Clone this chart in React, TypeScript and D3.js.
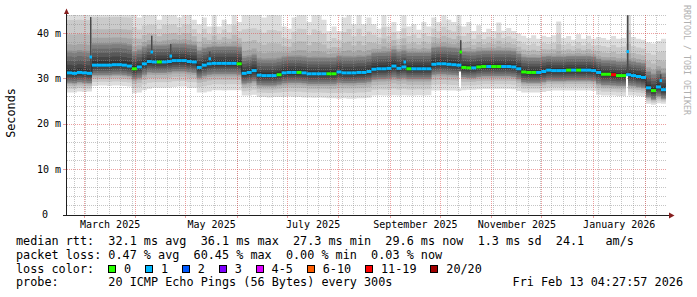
import React from 'react';
import * as d3 from 'd3';

// ---------- data ----------
const START = new Date(2025, 1, 18, 14, 0, 0);
const END = new Date(2026, 1, 14, 5, 0, 0);
const STEP_HOURS = 72; // one sample every 3 days
const Y_MAX_MS = 44.05;

const medianMs = [
  31.3, 31.2, 31.4, 31.3, 31.2,
  33.0, 33.0, 33.0, 33.0, 33.1, 33.1, 33.0, 32.8,
  32.2, 32.6, 33.3, 33.8, 33.7, 33.7, 33.7,
  33.8, 34.0, 34.0, 34.0, 33.8, 33.7, 32.5, 33.0, 33.3,
  33.4, 33.4, 33.4, 33.4, 33.4, 33.3,
  31.2, 31.4, 31.8, 30.8, 30.7, 30.7, 30.7, 30.9,
  31.3, 31.4, 31.4, 31.4, 31.3, 31.1, 31.1, 31.1, 31.1, 31.1, 31.1,
  31.5, 31.3, 31.3, 31.3, 31.4, 31.4, 31.6,
  32.1, 32.2, 32.2, 32.3, 32.8, 32.3, 32.6, 32.2, 32.2, 32.2, 32.2, 32.2,
  33.2, 33.3, 33.3, 33.2, 33.1, 33.0,
  32.5, 32.4, 32.4, 32.6, 32.7, 32.7, 32.7, 32.7, 32.7, 32.7, 32.6,
  32.2, 31.5, 31.4, 31.4, 31.4, 31.6,
  31.9, 31.8, 31.8, 31.8, 31.9, 31.9, 31.9, 31.9, 31.9, 31.8,
  31.4, 31.0, 31.0, 30.9, 30.7, 30.7, 30.9, 30.7, 30.5, 30.3,
  28.0, 27.4, 28.2, 27.6,
];
const pingMinMs = [
  27.0, 27.0, 27.2, 27.1, 27.2,
  28.4, 28.5, 28.5, 28.4, 28.5, 28.5, 28.4, 28.3,
  26.8, 27.0, 27.5, 27.8, 28.0, 28.0, 28.0,
  28.0, 28.2, 28.3, 28.3, 28.0, 28.0, 27.0, 27.0, 27.2,
  27.5, 27.5, 27.4, 27.5, 27.5, 27.5,
  26.3, 26.3, 26.5, 26.0, 26.0, 25.9, 26.0, 26.0,
  26.0, 26.1, 26.0, 26.0, 25.9, 25.9, 25.8, 25.9, 25.8, 25.7, 25.7,
  25.6, 25.7, 25.6, 25.6, 25.7, 25.7, 25.8,
  26.3, 26.4, 26.3, 26.3, 26.4, 26.3, 26.4, 26.3, 26.3, 26.4, 26.3, 26.4,
  27.4, 27.4, 27.5, 27.4, 27.4, 27.3,
  27.5, 27.6, 27.6, 27.7, 27.8, 27.8, 27.8, 27.8, 27.8, 27.8, 27.7,
  27.3, 27.0, 27.0, 27.0, 27.0, 27.1,
  27.3, 27.4, 27.4, 27.4, 27.4, 27.4, 27.4, 27.4, 27.4, 27.3,
  26.5, 26.3, 26.3, 26.3, 26.2, 26.2, 26.3, 26.3, 26.2, 26.1,
  24.5, 24.3, 24.6, 24.5,
];
const pingLowMs = [
  29.2, 29.1, 29.3, 29.2, 29.1,
  30.9, 30.9, 30.9, 30.9, 31.0, 31.0, 30.9, 30.7,
  30.0, 30.3, 31.0, 31.5, 31.4, 31.4, 31.4,
  31.5, 31.7, 31.7, 31.7, 31.5, 31.4, 30.3, 30.7, 31.0,
  31.1, 31.1, 31.1, 31.1, 31.1, 31.0,
  29.0, 29.2, 29.5, 28.7, 28.6, 28.6, 28.6, 28.8,
  29.1, 29.2, 29.2, 29.2, 29.1, 28.9, 28.9, 28.9, 28.9, 28.9, 28.9,
  29.2, 29.1, 29.1, 29.1, 29.2, 29.2, 29.4,
  29.9, 30.0, 30.0, 30.1, 30.4, 30.1, 30.3, 30.0, 30.0, 30.0, 30.0, 30.0,
  31.0, 31.1, 31.1, 31.0, 30.9, 30.8,
  30.4, 30.3, 30.3, 30.5, 30.6, 30.6, 30.6, 30.6, 30.6, 30.6, 30.5,
  30.0, 29.3, 29.2, 29.2, 29.2, 29.4,
  29.7, 29.6, 29.6, 29.6, 29.7, 29.7, 29.7, 29.7, 29.7, 29.6,
  29.0, 28.7, 28.7, 28.6, 28.5, 28.5, 28.6, 28.5, 28.3, 28.1,
  26.0, 25.5, 26.2, 25.7,
];
const pingHighMs = [
  35.8, 35.7, 35.9, 35.8, 35.7,
  37.5, 37.5, 37.5, 37.5, 37.6, 37.6, 37.5, 37.3,
  35.8, 36.2, 36.9, 37.4, 37.3, 37.3, 37.3,
  37.4, 37.6, 37.6, 37.6, 37.4, 37.3, 36.1, 36.6, 36.9,
  37.0, 37.0, 37.0, 37.0, 37.0, 36.9,
  34.6, 34.8, 35.2, 34.2, 34.1, 34.1, 34.1, 34.3,
  34.7, 34.8, 34.8, 34.8, 34.7, 34.5, 34.5, 34.5, 34.5, 34.5, 34.5,
  34.9, 34.7, 34.7, 34.7, 34.8, 34.8, 35.0,
  35.6, 35.7, 35.7, 35.8, 36.3, 35.8, 36.1, 35.7, 35.7, 35.7, 35.7, 35.7,
  36.8, 36.9, 36.9, 36.8, 36.7, 36.6,
  35.9, 35.8, 35.8, 36.0, 36.1, 36.1, 36.1, 36.1, 36.1, 36.1, 36.0,
  35.4, 34.7, 34.6, 34.6, 34.6, 34.8,
  34.9, 34.8, 34.8, 34.8, 34.9, 34.9, 34.9, 34.9, 34.9, 34.8,
  34.3, 34.0, 34.0, 33.9, 33.7, 33.7, 33.9, 33.7, 33.5, 33.3,
  31.5, 30.9, 31.7, 31.1,
];
const pingMaxMs = [
  47.0, 47.0, 47.0, 47.0, 47.0,
  47.0, 47.0, 47.0, 47.0, 47.0, 47.0, 47.0, 47.0,
  44.5, 43.5, 44.5, 44.5, 44.5, 43.0, 44.5,
  44.5, 44.5, 43.5, 44.5, 44.5, 43.0, 42.0, 43.5, 41.5,
  44.0, 41.5, 43.0, 42.0, 44.5, 42.5,
  44.5, 44.5, 44.5, 44.5, 43.5, 44.5, 44.5, 44.0,
  41.5, 41.0, 43.5, 44.5, 44.5, 42.5, 44.5, 44.0, 43.0, 40.5, 41.5,
  40.5, 43.5, 44.5, 42.0, 44.5, 42.0, 43.5,
  42.0, 41.0, 44.5, 41.5, 42.5, 40.5, 44.0, 41.5, 42.0, 40.8, 42.5, 41.5,
  43.5, 42.5, 44.0, 43.0, 42.5, 44.5,
  41.5, 42.5, 40.5, 41.8, 40.3, 41.0, 40.5, 42.4, 40.6, 41.2, 40.5,
  40.0, 39.5, 39.0, 39.6, 38.8, 39.5,
  39.2, 39.6, 42.6, 39.0, 39.4, 38.6, 39.8, 38.8, 39.5, 38.8,
  39.2, 39.0, 38.6, 39.4, 38.8, 39.0, 44.5, 39.2, 38.8, 38.6,
  38.0, 37.8, 38.3, 38.8,
];
const lossIndex = [
  1, 1, 1, 1, 1,
  1, 1, 1, 1, 1, 1, 1, 1,
  0, 1, 1, 1, 1, 0, 1,
  1, 1, 1, 1, 1, 1, 1, 1, 1,
  1, 1, 1, 1, 1, 0,
  1, 1, 1, 1, 1, 1, 1, 0,
  1, 1, 1, 0, 1, 1, 1, 1, 1, 0, 0,
  1, 1, 1, 1, 1, 1, 1,
  1, 1, 1, 1, 1, 1, 1, 0, 1, 1, 1, 1,
  1, 1, 1, 1, 1, 1,
  0, 0, 1, 0, 0, 1, 0, 0, 1, 1, 1,
  1, 0, 0, 0, 1, 1,
  1, 1, 1, 1, 0, 1, 0, 1, 1, 1,
  1, 0, 0, 6, 0, 0, 1, 1, 1, 1,
  1, 0, 1, 1,
];

// narrow median spikes (days after START)
const spikeDays = [14.4, 50.5, 62.5, 85.9, 203.1, 236.8, 337.2, 357.0];
const spikeMs = [34.8, 35.9, 35.0, 34.4, 33.7, 35.9, 36.0, 29.6];
const spikeTopMs = [43.6, 39.5, 37.7, 36.0, 34.4, 38.5, 44.0, 31.0];
const spikeLoss = [1, 1, 1, 1, 1, 0, 1, 1];
const spikeGapTopMs = [0, 0, 0, 0, 0, 31.6, 30.6, 0];
const spikeGapBottomMs = [0, 0, 0, 0, 0, 27.9, 24.0, 0];

const lossLabels = ['0', '1', '2', '3', '4-5', '6-10', '11-19', '20/20'];
const lossColors = ['#26ff00', '#00b8ff', '#0059ff', '#7e00ff', '#dd00ff', '#ff5e00', '#ff0000', '#a10000'];

const yMajorTicks = [0, 10, 20, 30, 40];
const yMinorStep = 2;
const xLabelMonths = [
  new Date(2025, 2, 1), new Date(2025, 4, 1), new Date(2025, 6, 1),
  new Date(2025, 8, 1), new Date(2025, 10, 1), new Date(2026, 0, 1),
];

const statLines = [
  'median rtt:  32.1 ms avg  36.1 ms max  27.3 ms min  29.6 ms now  1.3 ms sd  24.1   am/s',
  'packet loss: 0.47 % avg  60.45 % max  0.00 % min  0.03 % now',
];
const lossColorTitle = 'loss color:';
const probeText = 'probe:       20 ICMP Echo Pings (56 Bytes) every 300s';
const dateText = 'Fri Feb 13 04:27:57 2026';
const yTitle = 'Seconds';
const watermark = 'RRDTOOL / TOBI OETIKER';

// ---------- layout ----------
const W = 697, H = 297;
const PL = 67, PR = 667, PT = 15, PB = 215;
const MONO = '"DejaVu Sans Mono", monospace';
const LEG_FS = 11.8;
const CW = LEG_FS * 0.6021;
const LEG_X = 16;
const GRID = 'rgba(140,140,140,0.5)';
const MGRID = 'rgba(222,80,80,0.55)';

export default function App() {
  const x = d3.scaleTime().domain([START, END]).range([PL, PR]);
  const y = d3.scaleLinear().domain([0, Y_MAX_MS]).range([PB, PT]);
  const n = medianMs.length;
  const edges = d3.range(n + 1).map(i => d3.timeHour.offset(START, i * STEP_HOURS));
  const idx = d3.range(n + 1);
  const at = (arr: number[], i: number) => arr[Math.min(i, n - 1)];
  const snap = (v: number) => Math.floor(v) + 0.5;

  // smoke layers (10 bands from outer/light to inner/dark)
  const layers = d3.range(1, 11).map(k => {
    const tOut = Math.pow((6 - k) / 5, 2);
    const tIn = (k - 6) / 5;
    const lo = (i: number) => {
      const mn = at(pingMinMs, i), lw = at(pingLowMs, i), md = at(medianMs, i);
      return k <= 6 ? lw - (lw - mn) * tOut : lw + (md - lw) * tIn;
    };
    const hi = (i: number) => {
      const mx = at(pingMaxMs, i), hg = at(pingHighMs, i), md = at(medianMs, i);
      return k <= 6 ? hg + (mx - hg) * tOut : hg - (hg - md) * tIn;
    };
    const area = d3.area<number>()
      .x(i => x(edges[i]))
      .y0(i => y(lo(i)))
      .y1(i => y(hi(i)))
      .curve(d3.curveStepAfter);
    const g = Math.floor((190 / 10) * (10 - k)) + 50;
    return { d: area(idx) || '', fill: `rgb(${g},${g},${g})` };
  });

  // grids
  const hMinor = d3.range(yMinorStep, Y_MAX_MS, yMinorStep).filter(v => v % 10 !== 0);
  const hMajor = yMajorTicks.filter(v => v > 0);
  const vMinor = d3.timeSunday.range(START, END);
  const vMajor = d3.timeMonth.range(START, END);

  // legend line 3 positions
  let lx = LEG_X + 13 * CW;
  const lossItems = lossLabels.map((lab, i) => {
    const item = { box: lx, text: lx + 15.6, lab, color: lossColors[i] };
    lx = item.text + lab.length * CW + 2 * CW;
    return item;
  });

  const legendBase = [245, 258.7, 272.5, 286.3];

  return (
    <svg width={W} height={H} viewBox={`0 0 ${W} ${H}`}
      style={{ position: 'absolute', left: 0, top: 0, display: 'block', background: '#fff' }}
      fontFamily={MONO}>
      <rect x={0} y={0} width={W} height={H} fill="#ffffff" />
      <defs>
        <clipPath id="plotClip">
          <rect x={PL} y={PT} width={PR - PL} height={PB - PT} />
        </clipPath>
      </defs>

      {/* smoke */}
      <g clipPath="url(#plotClip)">
        {layers.map((l, i) => (
          <path key={i} d={l.d} fill={l.fill} />
        ))}
        {spikeDays.map((d, i) => {
          if (!spikeGapTopMs[i]) return null;
          const sx = x(d3.timeHour.offset(START, d * 24));
          return (
            <rect key={'gap' + i} x={Math.floor(sx) - 1} width={2}
              y={y(spikeGapTopMs[i])} height={y(spikeGapBottomMs[i]) - y(spikeGapTopMs[i])}
              fill="#ffffff" />
          );
        })}
      </g>

      {/* grid */}
      <g strokeWidth={1} strokeDasharray="1,1" shapeRendering="crispEdges">
        {hMinor.map(v => (
          <line key={'hm' + v} x1={PL} x2={PR} y1={snap(y(v))} y2={snap(y(v))} stroke={GRID} />
        ))}
        {vMinor.map(d => (
          <line key={'vm' + d.getTime()} x1={snap(x(d))} x2={snap(x(d))} y1={PT} y2={PB} stroke={GRID} />
        ))}
        {hMajor.map(v => (
          <line key={'hM' + v} x1={PL} x2={PR} y1={snap(y(v))} y2={snap(y(v))} stroke={MGRID} />
        ))}
        {vMajor.map(d => (
          <line key={'vM' + d.getTime()} x1={snap(x(d))} x2={snap(x(d))} y1={PT} y2={PB} stroke={MGRID} />
        ))}
      </g>
      {/* ticks */}
      <g strokeWidth={1} shapeRendering="crispEdges">
        {vMajor.map(d => (
          <line key={'tM' + d.getTime()} x1={snap(x(d))} x2={snap(x(d))} y1={PB} y2={PB + 3} stroke={MGRID} />
        ))}
        {yMajorTicks.map(v => (
          <line key={'tyM' + v} x1={63} x2={PL} y1={snap(y(v))} y2={snap(y(v))} stroke={v === 0 ? '#1f1f1f' : MGRID} />
        ))}
      </g>

      {/* spikes */}
      <g clipPath="url(#plotClip)">
        {spikeDays.map((d, i) => {
          const sx = Math.floor(x(d3.timeHour.offset(START, d * 24)));
          const base = medianMs[Math.min(n - 1, Math.floor(d / 3))];
          return (
            <g key={'sp' + i}>
              <rect x={sx} width={1.5} y={y(spikeTopMs[i])} height={y(base) - y(spikeTopMs[i])} fill="#4a4a4a" />
              <rect x={sx - 0.5} width={2.5} y={y(spikeMs[i]) - 1.5} height={3} fill={lossColors[spikeLoss[i]]} />
            </g>
          );
        })}
      </g>

      {/* median line */}
      <g>
        {d3.range(1, n).filter(i => medianMs[i] !== medianMs[i - 1]).map(i => (
          <line key={'c' + i} x1={x(edges[i])} x2={x(edges[i])}
            y1={y(medianMs[i - 1])} y2={y(medianMs[i])} stroke="#2a2a2a" strokeWidth={1} />
        ))}
        {d3.range(n).map(i => (
          <line key={'m' + i} x1={x(edges[i])} x2={x(edges[i + 1])}
            y1={y(medianMs[i])} y2={y(medianMs[i])}
            stroke={lossColors[lossIndex[i]]} strokeWidth={3} />
        ))}
      </g>

      {/* axes */}
      <g shapeRendering="crispEdges">
        <line x1={66.5} x2={66.5} y1={PB + 1} y2={PT - 2} stroke="#1f1f1f" strokeWidth={1} />
        <line x1={63} x2={670} y1={PB + 0.5} y2={PB + 0.5} stroke="#1f1f1f" strokeWidth={1} />
      </g>
      <polygon points={`64,14 69,14 66.5,8.5`} fill="#861f1f" />
      <polygon points={`669,212.5 669,218.5 674.5,215.5`} fill="#861f1f" />

      {/* y labels */}
      <g fontSize={10} fill="#000">
        {yMajorTicks.map(v => (
          <text key={'yl' + v} x={v === 0 ? 48 : 61} y={y(v) + 3.2} textAnchor="end">
            {v === 0 ? '0' : `${v} m`}
          </text>
        ))}
      </g>
      {/* x labels */}
      <g fontSize={10} fill="#000">
        {xLabelMonths.map(m => {
          const cx = (x(m) + x(d3.timeMonth.offset(m, 1))) / 2;
          return (
            <text key={'xl' + m.getTime()} x={cx} y={228.3} textAnchor="middle">
              {d3.timeFormat('%B %Y')(m)}
            </text>
          );
        })}
      </g>

      {/* titles */}
      <text transform="translate(15,113) rotate(-90)" textAnchor="middle" fontSize={LEG_FS} fill="#000">
        {yTitle}
      </text>
      <text transform="translate(684,5) rotate(90)" fontSize={8.3} fill="#b0b0b0">
        {watermark}
      </text>

      {/* legend */}
      <g fontSize={LEG_FS} fill="#000" style={{ whiteSpace: 'pre' }}>
        {statLines.map((s, i) => (
          <text key={'st' + i} x={LEG_X} y={legendBase[i]} xmlSpace="preserve">{s}</text>
        ))}
        <text x={LEG_X} y={legendBase[2]}>{lossColorTitle}</text>
        {lossItems.map(it => (
          <g key={'li' + it.lab}>
            <rect x={Math.floor(it.box) + 0.5} y={265.5} width={7} height={7} fill={it.color}
              stroke="#000" strokeWidth={1} shapeRendering="crispEdges" />
            <text x={it.text} y={legendBase[2]}>{it.lab}</text>
          </g>
        ))}
        <text x={LEG_X} y={legendBase[3]} xmlSpace="preserve">{probeText}</text>
        <text x={683} y={legendBase[3]} textAnchor="end">{dateText}</text>
      </g>
    </svg>
  );
}
